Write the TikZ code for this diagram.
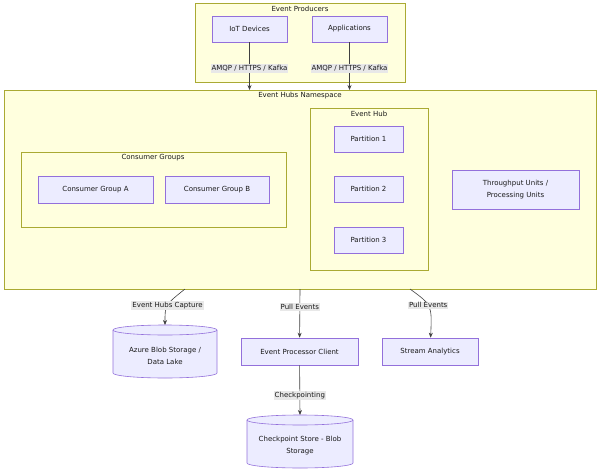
\documentclass[tikz,border=0pt]{standalone}
\usepackage{fontspec}
\setmainfont{DejaVu Sans}
\usetikzlibrary{positioning,arrows.meta,calc}
\definecolor{grpfill}{HTML}{FFFFDE}
\definecolor{grpline}{HTML}{AAAA33}
\definecolor{boxfill}{HTML}{ECECFF}
\definecolor{boxline}{HTML}{9370DB}
\definecolor{lblfill}{HTML}{E8E8E8}
\tikzset{
  grp/.style={draw=grpline,fill=grpfill,line width=0.6pt},
  box/.style={draw=boxline,fill=boxfill,line width=0.6pt,align=center,inner sep=0pt},
  lbl/.style={fill=lblfill,inner sep=1pt,font=\fontsize{7}{9}\selectfont},
  edge/.style={draw=black!75,line width=0.6pt,-{Stealth[length=5pt,width=4pt]}},
  every node/.style={font=\fontsize{7}{10}\selectfont,text=black!90}
}
\newcommand{\cyl}[5]{% x1,x2,ytop,ybot,name
  \fill[boxfill] (#1,#3) -- (#1,#4) arc[start angle=180,end angle=0,x radius={(#2-#1)/2},y radius=5] -- (#2,#3) -- cycle;
  \draw[boxline,line width=0.6pt,fill=boxfill] ({(#1+#2)/2},#3) ellipse[x radius={(#2-#1)/2},y radius=5];
  \draw[boxline,line width=0.6pt] (#1,#3) -- (#1,#4) arc[start angle=180,end angle=0,x radius={(#2-#1)/2},y radius=5] -- (#2,#3);
  \coordinate (#5) at ({(#1+#2)/2},#3-5);}
\begin{document}
\begin{tikzpicture}[x=1pt,y=-1pt]
  \useasboundingbox (0,0) rectangle (600,474);
  % Groups
  \draw[grp] (195,3) rectangle (405,82);
  \node at (300,9) {Event Producers};
  \draw[grp] (4,90) rectangle (596,289);
  \node at (300,96) {Event Hubs Namespace};
  \draw[grp] (21,152) rectangle (286,227);
  \node at (153,158) {Consumer Groups};
  \draw[grp] (310,108) rectangle (428,270);
  \node at (369,114) {Event Hub};

  % Nodes
  \node[box,minimum width=75pt,minimum height=26pt] (iot) at (249.5,29) {IoT Devices};
  \node[box,minimum width=75pt,minimum height=26pt] (apps) at (349.5,29) {Applications};
  \node[box,minimum width=115pt,minimum height=27pt] (cga) at (95.5,189.5) {Consumer Group A};
  \node[box,minimum width=104pt,minimum height=27pt] (cgb) at (217,189.5) {Consumer Group B};
  \node[box,minimum width=69pt,minimum height=26pt] (p1) at (368.5,139) {Partition 1};
  \node[box,minimum width=69pt,minimum height=26pt] (p2) at (368.5,189) {Partition 2};
  \node[box,minimum width=69pt,minimum height=26pt] (p3) at (368.5,240) {Partition 3};
  \node[box,minimum width=127pt,minimum height=39pt] (tu) at (515.5,189.5) {Throughput Units /\\[2pt]Processing Units};
  \node[box,minimum width=117pt,minimum height=27pt] (epc) at (299.5,351.5) {Event Processor Client};
  \node[box,minimum width=96pt,minimum height=27pt] (sa) at (430,351.5) {Stream Analytics};
  \cyl{113}{217}{330}{373}{blob}
  \node[align=center] (blobt) at (165,356) {Azure Blob Storage /\\[2pt]Data Lake};
  \cyl{247}{353}{420}{463}{ckpt}
  \node[align=center] (ckptt) at (300,446) {Checkpoint Store - Blob\\[2pt]Storage};
  \coordinate (nsa) at (249.5,90);
  \coordinate (nsb) at (349.5,90);
  \coordinate (nsc) at (185,289);
  \coordinate (nsd) at (300,289);
  \coordinate (nse) at (410,289);

  % Arrows
  \draw[edge] (iot) -- (nsa) node[lbl,pos=0.55] {AMQP / HTTPS / Kafka};
  \draw[edge] (apps) -- (nsb) node[lbl,pos=0.55] {AMQP / HTTPS / Kafka};
  \draw[edge] (nsc) .. controls (165,305) .. (blob) node[lbl,pos=0.5] {Event Hubs Capture};
  \draw[edge] (nsd) -- (epc) node[lbl,pos=0.37] {Pull Events};
  \draw[edge] (nse) .. controls (432,305) .. (sa) node[lbl,pos=0.45] {Pull Events};
  \draw[edge] (epc) -- (ckpt) node[lbl,pos=0.6] {Checkpointing};
\end{tikzpicture}
\end{document}
